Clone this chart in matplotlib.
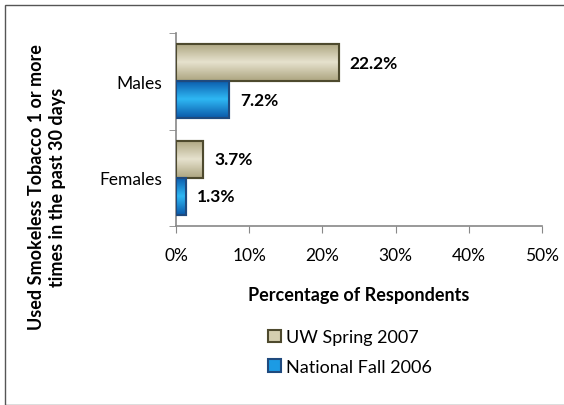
import matplotlib.pyplot as plt
import numpy as np
from matplotlib.patches import Rectangle
from matplotlib.colors import LinearSegmentedColormap

plt.rcParams['font.family'] = ['Lato', 'DejaVu Sans']

categories = ['Males', 'Females']
uw_spring_2007 = [22.2, 3.7]
national_fall_2006 = [7.2, 1.3]
series_names = ['UW Spring 2007', 'National Fall 2006']
xticks = [0, 10, 20, 30, 40, 50]

uw_face, uw_edge = '#D5CFB0', '#4E4A2E'
nat_face, nat_edge = '#1C9BE4', '#1F4A7E'
uw_cmap = LinearSegmentedColormap.from_list('uw', ['#ADA580', '#E6E2CE', '#ADA580'])
nat_cmap = LinearSegmentedColormap.from_list('nat', ['#0A5AAA', '#2FB8F4', '#0A5AAA'])

fig = plt.figure(figsize=(5.64, 4.06), dpi=100)
W, H = 564, 406

# outer chart border (right/bottom run off the image)
fig.patches.append(Rectangle((5 / W, 0), 1.2, 1 - 6 / H, transform=fig.transFigure,
                             fill=False, edgecolor='#555555', linewidth=1.0))

ax = fig.add_axes([176 / W, 1 - 227 / H, (542 - 176) / W, (227 - 34) / H])

y = np.arange(len(categories))
h = 0.385
b1 = ax.barh(y - h / 2, uw_spring_2007, height=h, color=uw_face, edgecolor=uw_edge,
             linewidth=1.5, label=series_names[0], zorder=3)
b2 = ax.barh(y + h / 2, national_fall_2006, height=h, color=nat_face, edgecolor=nat_edge,
             linewidth=1.5, label=series_names[1], zorder=3)

# vertical gradient inside each bar
grad = np.linspace(0, 1, 64).reshape(-1, 1)
for bars, cmap in ((b1, uw_cmap), (b2, nat_cmap)):
    for rect in bars:
        x0, y0 = rect.get_x(), rect.get_y()
        im = ax.imshow(grad, cmap=cmap, aspect='auto', zorder=3.5,
                       extent=(x0, x0 + rect.get_width(), y0 + rect.get_height(), y0))
        im.set_clip_path(rect)
        edge = Rectangle((x0, y0), rect.get_width(), rect.get_height(), fill=False,
                         edgecolor=rect.get_edgecolor(), linewidth=1.5, zorder=4)
        ax.add_patch(edge)

for bars in (b1, b2):
    for rect in bars:
        v = rect.get_width()
        ax.annotate(f'{v:.1f}%', (v, rect.get_y() + rect.get_height() / 2),
                    xytext=(8, 0), textcoords='offset points', va='center',
                    ha='left', fontsize=12.5, fontweight='bold')

ax.set_xlim(0, 50)
ax.set_ylim(1.5, -0.5)
ax.set_xticks(xticks)
ax.set_xticklabels([f'{t}%' for t in xticks], fontsize=12.5)
ax.set_yticks(y)
ax.set_yticklabels(categories, fontsize=12.5)
ax.set_yticks([-0.5, 0.5, 1.5], minor=True)
ax.tick_params(axis='y', which='major', length=0, pad=10)
ax.tick_params(axis='y', which='minor', length=5, color='#888888', direction='out')
ax.tick_params(axis='x', length=5, color='#888888', direction='out', pad=10)

for s in ('top', 'right'):
    ax.spines[s].set_visible(False)
for s in ('left', 'bottom'):
    ax.spines[s].set_color('#888888')
    ax.spines[s].set_linewidth(1.2)

ax.set_xlabel('Percentage of Respondents', fontsize=13, fontweight='bold', labelpad=17)

fig.text(47 / W, 1 - 187 / H, 'Used Smokeless Tobacco 1 or more\ntimes in the past 30 days',
         rotation=90, ha='center', va='center', fontsize=13, fontweight='bold',
         linespacing=1.3)

ax.legend(loc='upper left', bbox_to_anchor=(252 / W, 1 - 314 / H),
          bbox_transform=fig.transFigure, frameon=False, fontsize=13,
          handlelength=0.7, handleheight=0.7, handletextpad=0.3, labelspacing=0.75)

fig.savefig('out.png', dpi=100)
